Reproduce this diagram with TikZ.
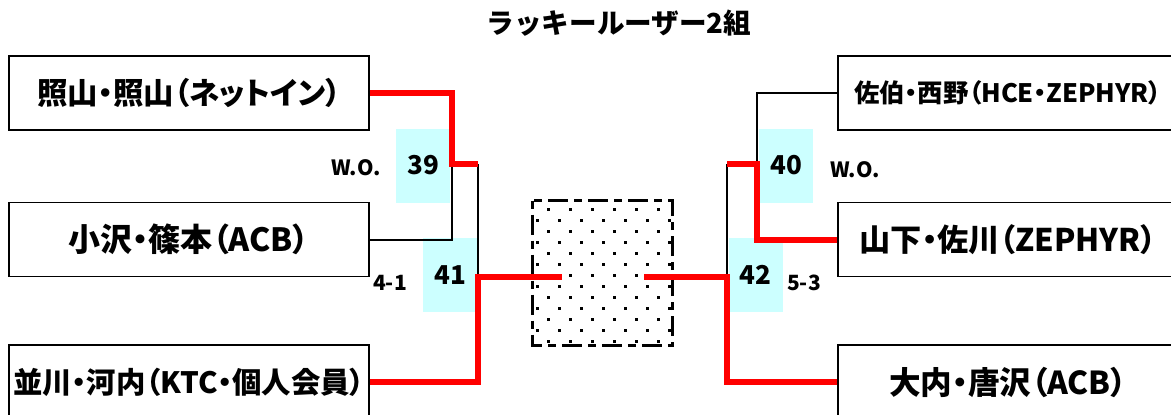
\documentclass[tikz,border=0pt]{standalone}
\usepackage{fontspec}
\newfontfamily\jpfont[RawFeature=+palt]{Noto Sans CJK JP}
\newfontfamily\jptitle{Noto Sans CJK JP}
\usetikzlibrary{calc}
\definecolor{matchblue}{RGB}{204,255,255}

\begin{document}
\begin{tikzpicture}[x=0.5pt, y=-0.5pt,
    every node/.style={font=\jpfont\bfseries},
    team/.style={draw, line width=0.6pt, minimum width=180pt, minimum height=37pt, inner sep=0pt},
    teamR/.style={team, minimum width=170pt},
    fs/.style={font=\jpfont\bfseries\fontsize{#1}{#1}\selectfont},
    match/.style={fill=matchblue, minimum width=27pt, minimum height=37pt, inner sep=0pt, fs=13},
    score/.style={inner sep=0pt, fs=10.5},
    win/.style={red, line width=3pt},
    lose/.style={black, line width=1pt}]
    \clip (0,0) rectangle (1171,414);

    % Title
    \node[font=\jptitle\bfseries\fontsize{13.8}{14}\selectfont] (title) at (619,23) {ラッキールーザー2組};

    % Teams, left side
    \node[team, fs=15.2] (L1) at (189,93) {照山・照山（ネットイン）};
    \node[team, fs=16] (L2) at (189,239.5) {小沢・篠本（ACB）};
    \node[team, fs=14.7] (L3) at (189,382) {並川・河内（KTC・個人会員）};

    % Teams, right side
    \node[teamR, fs=12.7] (R1) at (1008,93) {佐伯・西野（HCE・ZEPHYR）};
    \node[teamR, fs=15.6] (R2) at (1008,239.5) {山下・佐川（ZEPHYR）};
    \node[teamR, fs=15.8] (R3) at (1008,382) {大内・唐沢（ACB）};

    % Match numbers
    \node[match] (m39) at (423,165.5) {39};
    \node[match] (m41) at (450,275) {41};
    \node[match] (m40) at (786,165.5) {40};
    \node[match] (m42) at (755.5,275) {42};

    % Scores
    \node[score] (s39) at (356,168) {W.O.};
    \node[score] (s41) at (390,283) {4-1};
    \node[score] (s40) at (855,170) {W.O.};
    \node[score] (s42) at (804,283) {5-3};

    % Final box (dotted)
    \node[minimum width=69.5pt, minimum height=72pt, inner sep=0pt] (final) at (602.5,273) {};
    \foreach \i in {0,2,...,12}
        \foreach \j in {0,...,5}
            \fill (547+22*\j,208+11*\i) rectangle +(2.7,2.7);
    \foreach \i in {1,3,...,11}
        \foreach \j in {0,...,6}
            \fill (536+22*\j,208+11*\i) rectangle +(2.7,2.7);
    \draw[line width=1.35pt, dash pattern=on 4pt off 3pt on 10pt off 3pt] (final.north west) rectangle (final.south east);

    % Joints
    \coordinate (j39) at (452,164);
    \coordinate (j41) at (478,277);
    \coordinate (j40) at (757,164);
    \coordinate (j42) at (727,277);
    \coordinate (finL) at (562,277);
    \coordinate (finR) at (644,277);

    % Left bracket
    \draw[lose] (L2.east) -| (j39);
    \draw[lose] (j39 -| j41) -- (j41);
    \draw[win] (L1.east) -| (j39) -- (j39 -| j41);
    \draw[win] (L3.east) -| (j41) -- (finL);

    % Right bracket
    \draw[lose] (R1.west) -| (j40);
    \draw[lose] (j40 -| j42) -- (j42);
    \draw[win] (R2.west) -| (j40) -- (j40 -| j42);
    \draw[win] (R3.west) -| (j42) -- (finR);
\end{tikzpicture}
\end{document}
